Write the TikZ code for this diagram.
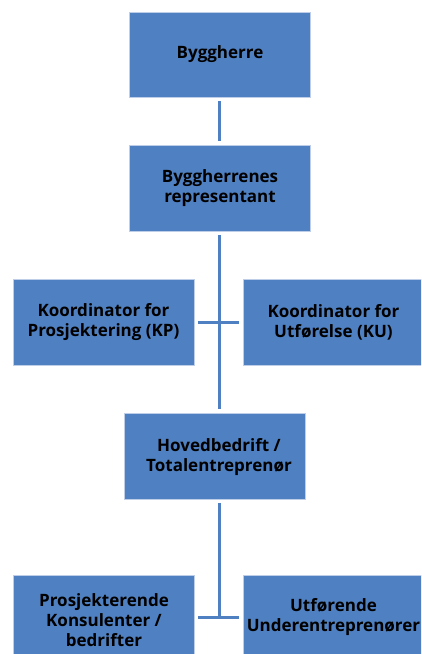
\documentclass[tikz,border=0pt]{standalone}
\usepackage{fontspec}
\setmainfont{Open Sans}
\definecolor{orgblue}{RGB}{79,128,193}
\definecolor{orgedge}{RGB}{190,205,232}
\begin{document}
\begin{tikzpicture}[x=1pt,y=-1pt,
  box/.style={rectangle, fill=orgblue, draw=orgedge, line width=0.8pt,
    minimum width=181pt, minimum height=86pt, inner sep=0pt,
    align=center, font=\fontsize{17}{20}\selectfont\bfseries},
  lbl/.style={inner sep=0pt, align=center, font=\fontsize{17}{20}\selectfont\bfseries},
  conn/.style={draw=orgblue, line width=3pt, shorten <=3.5pt, shorten >=3.5pt}]
\useasboundingbox (0,0) rectangle (421,654);
\clip (0,0) rectangle (421,654);

% top chain
\node[box, minimum height=85pt] (bh) at (220,54.5) {Byggherre};
\node[box] (rep) at (220,188) {Byggherrenes\\representant};

% coordinators
\node[box] (kp) at (103.5,322) {Koordinator for\\Prosjektering (KP)};
\node[box] (ku) at (333.5,322) {Koordinator for\\Utførelse (KU)};

% main contractor
\node[box] (hoved) at (214.5,456) {};
\node[lbl] (hovedtxt) at (219,457.5) {Hovedbedrift /\\Totalentreprenør};

% bottom row
\node[box, minimum height=84pt] (pk) at (103.5,617) {};
\node[lbl] (pktxt) at (104,620) {Prosjekterende\\Konsulenter /\\bedrifter};
\node[box, minimum height=84pt] (ue) at (333.5,617) {Utførende\\Underentreprenører};

% junctions on the spine
\coordinate (spine) at (219,0);
\coordinate (j2) at (219,617);

% connectors
\draw[conn] (bh.south -| spine) -- (rep.north -| spine);
\draw[conn] (rep.south -| spine) -- (hoved.north -| spine);
\draw[conn] (kp.east) -- (ku.west);
\draw[conn, shorten >=0pt] (hoved.south -| spine) -- (j2);
\draw[conn] (pk.east) -- (ue.west);
\end{tikzpicture}
\end{document}
